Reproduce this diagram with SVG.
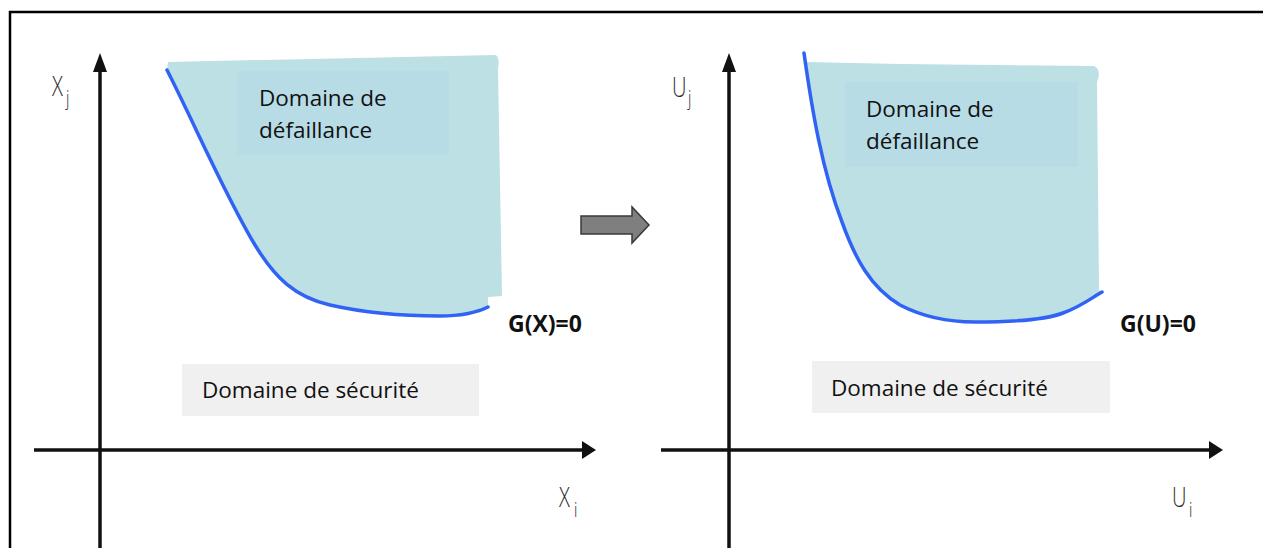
<svg xmlns="http://www.w3.org/2000/svg" width="1263" height="548" viewBox="0 0 1263 548">
<style>
.txt{font-family:"Open Sans","Liberation Sans",sans-serif;font-size:22.5px;fill:#111}
.bold{font-family:"Open Sans","Liberation Sans",sans-serif;font-size:23px;font-weight:bold;fill:#111}
.ax{font-family:"Open Sans","Liberation Sans",sans-serif;font-weight:300;fill:#2a2a2a}
.axis{stroke:#111;stroke-width:3.5;fill:none}
.head{fill:#111}
.region{fill:#bce0e3}
.box{fill:#b7dce6}
.safe{fill:#f0f0f0}
.limit{fill:none;stroke:#3063f5;stroke-width:3.5;stroke-linecap:round}
</style>
<rect width="1263" height="548" fill="#fff"/>
<g id="frame">
<path d="M10,548 V12 H1263" fill="none" stroke="#000" stroke-width="2.5"/>
</g>
<g id="left-panel">
<g id="left-failure">
<path class="region" d="M167,70 C195,125 225,195 255,245 C275,278 295,297 330,305 C370,314 410,316 440,316 C465,316 478,312 488,307 L488,297 L502,296 L498,68 Q500,59 496,55 L168,62 Z"/>
<rect class="box" x="237" y="71" width="212" height="84"/>
<text class="txt" x="259" y="106">Domaine de</text>
<text class="txt" x="259" y="138">défaillance</text>
</g>
<g id="left-limit">
<path class="limit" d="M167,70 C195,125 225,195 255,245 C275,278 295,297 330,305 C370,314 410,316 440,316 C465,316 478,312 488,307"/>
<text class="bold" x="508" y="332">G(X)=0</text>
</g>
<g id="left-safe">
<rect class="safe" x="182" y="364" width="297" height="52"/>
<text class="txt" x="202" y="398">Domaine de sécurité</text>
</g>
<g id="left-axes">
<line class="axis" x1="100" y1="70" x2="100" y2="548"/>
<polygon class="head" points="100,53 93,72 107,72"/>
<line class="axis" x1="34" y1="450" x2="584" y2="450"/>
<polygon class="head" points="596,450 582,441 582,459"/>
<text class="ax" font-size="28" transform="translate(52,96) scale(0.72,1)">X</text>
<text class="ax" font-size="20" transform="translate(66,105) scale(0.75,1)">j</text>
<text class="ax" font-size="28" transform="translate(559,507) scale(0.72,1)">X</text>
<text class="ax" font-size="20" transform="translate(574,517) scale(0.75,1)">i</text>
</g>
</g>
<g id="connectors">
<path id="transform-arrow" d="M581,216 L632,216 L632,207 L649,225 L632,243 L632,234 L581,234 Z" fill="#7f7f7f" stroke="#3a3a3a" stroke-width="1.5" stroke-linejoin="miter"/>
</g>
<g id="right-panel">
<g id="right-failure">
<path class="region" d="M805.5,62 C813,115 822,170 842,222 C855,258 870,287 900,305 C925,318 950,322 975,322 C1010,322 1045,320 1063,313 C1080,307 1090,299 1102,292 L1099,290 L1097,82 Q1102,70 1094,66 L900,64 Z"/>
<rect class="box" x="845" y="82" width="233" height="85"/>
<text class="txt" x="866" y="117">Domaine de</text>
<text class="txt" x="866" y="149">défaillance</text>
</g>
<g id="right-limit">
<path class="limit" d="M804,53 C812,110 822,170 842,222 C855,258 870,287 900,305 C925,318 950,322 975,322 C1010,322 1045,320 1063,313 C1080,307 1090,299 1102,292"/>
<text class="bold" x="1120" y="332">G(U)=0</text>
</g>
<g id="right-safe">
<rect class="safe" x="812" y="361" width="298" height="52"/>
<text class="txt" x="831" y="396">Domaine de sécurité</text>
</g>
<g id="right-axes">
<line class="axis" x1="729" y1="70" x2="729" y2="548"/>
<polygon class="head" points="729,53 722,72 736,72"/>
<line class="axis" x1="661" y1="450" x2="1211" y2="450"/>
<polygon class="head" points="1223,450 1209,441 1209,459"/>
<text class="ax" font-size="28" transform="translate(672,97) scale(0.72,1)">U</text>
<text class="ax" font-size="20" transform="translate(688,105) scale(0.75,1)">j</text>
<text class="ax" font-size="28" transform="translate(1172,507) scale(0.72,1)">U</text>
<text class="ax" font-size="20" transform="translate(1189,517) scale(0.75,1)">i</text>
</g>
</g>
</svg>
